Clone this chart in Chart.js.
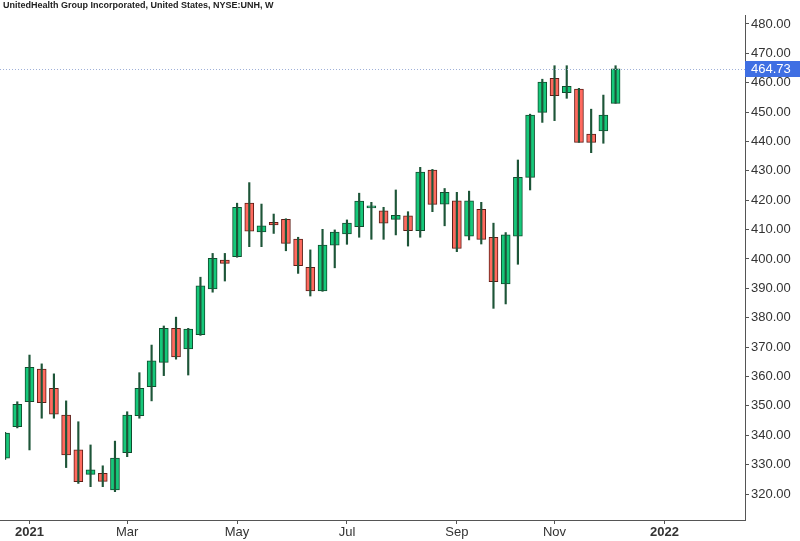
<!DOCTYPE html>
<html>
<head>
<meta charset="utf-8">
<script src="https://cdn.jsdelivr.net/npm/chart.js@4/dist/chart.umd.min.js"></script>
<style>
  html, body { margin: 0; padding: 0; background: #fff; }
</style>
</head>
<body>
<canvas id="chart" width="800" height="541"></canvas>
<script>
// weekly bars, UNH
const weeks = [
  '2020-12-21','2020-12-28','2021-01-04','2021-01-11','2021-01-18','2021-01-25',
  '2021-02-01','2021-02-08','2021-02-15','2021-02-22','2021-03-01','2021-03-08',
  '2021-03-15','2021-03-22','2021-03-29','2021-04-05','2021-04-12','2021-04-19',
  '2021-04-26','2021-05-03','2021-05-10','2021-05-17','2021-05-24','2021-05-31',
  '2021-06-07','2021-06-14','2021-06-21','2021-06-28','2021-07-05','2021-07-12',
  '2021-07-19','2021-07-26','2021-08-02','2021-08-09','2021-08-16','2021-08-23',
  '2021-08-30','2021-09-06','2021-09-13','2021-09-20','2021-09-27','2021-10-04',
  '2021-10-11','2021-10-18','2021-10-25','2021-11-01','2021-11-08','2021-11-15',
  '2021-11-22','2021-11-29','2021-12-06'
];
const opens = [
  332.2, 342.9, 351.4, 362.5, 356.0, 346.9, 335.0, 326.7, 327.0, 321.4, 334.1, 346.7,
  356.5, 364.8, 376.4, 369.4, 374.2, 389.8, 399.6, 400.8, 419.0, 409.2, 412.5, 413.5,
  406.8, 397.2, 389.1, 404.7, 408.5, 411.0, 417.4, 416.4, 413.5, 414.7, 409.6, 430.3,
  418.7, 419.8, 407.8, 416.9, 407.4, 391.5, 407.8, 427.8, 449.9, 461.5, 456.6, 457.8,
  442.5, 443.6, 453.0
];
const highs = [
  341.0, 351.4, 367.3, 364.3, 360.9, 351.7, 344.6, 336.7, 329.6, 338.0, 348.0, 361.3,
  370.7, 377.2, 380.2, 376.4, 393.8, 401.9, 401.9, 419.0, 426.0, 418.7, 415.3, 413.7,
  407.4, 403.1, 410.1, 409.9, 413.3, 422.4, 419.3, 417.6, 423.5, 416.1, 431.2, 430.5,
  424.0, 422.7, 423.1, 419.3, 412.2, 409.0, 433.7, 449.3, 461.2, 465.8, 465.8, 458.1,
  451.0, 455.8, 465.8
];
const lows = [
  331.8, 342.5, 335.0, 345.8, 345.8, 329.0, 323.6, 322.5, 322.5, 320.8, 332.7, 345.8,
  351.7, 360.3, 365.9, 360.5, 374.0, 388.7, 392.5, 400.6, 404.2, 404.2, 408.7, 402.8,
  395.1, 387.4, 389.0, 397.0, 405.0, 407.4, 406.7, 406.7, 408.2, 404.4, 407.4, 416.1,
  411.3, 402.5, 406.5, 405.1, 383.2, 384.7, 398.2, 423.5, 446.5, 447.1, 454.7, 439.7,
  436.2, 439.4, 453.0
];
const closes = [
  340.7, 350.5, 363.1, 351.1, 347.2, 333.3, 324.2, 328.2, 324.3, 332.2, 346.9, 356.0,
  365.3, 376.4, 366.7, 376.1, 390.9, 400.2, 398.5, 417.6, 409.5, 411.3, 411.6, 405.3,
  397.7, 389.1, 404.7, 409.2, 412.2, 419.7, 417.6, 412.2, 414.9, 409.6, 429.6, 418.6,
  422.7, 403.6, 419.8, 406.7, 392.3, 408.2, 427.8, 449.0, 460.2, 455.6, 458.8, 439.7,
  439.7, 449.0, 464.73
];
const firstIndex = -2; // Dec 21 2020 sits two bars before the first 2021 week
const xTickPos = [0, 8, 17, 26, 35, 43, 52];
const xTickLabels = ['2021', 'Mar', 'May', 'Jul', 'Sep', 'Nov', '2022'];
const yTickValues = [320, 330, 340, 350, 360, 370, 380, 390, 400, 410, 420, 430, 440, 450, 460, 470, 480];
const lastPrice = 464.73;
const title = 'UnitedHealth Group Incorporated, United States, NYSE:UNH, W';

const UP = '#16c87a', DOWN = '#ff6a5f';
const UP_EDGE = '#0f4d2e', DOWN_EDGE = '#5e1c16', WICK = '#1d5538';
const FONT = "'Liberation Sans', Arial, sans-serif";

const isUp = opens.map((o, i) => closes[i] >= o);

const titlePlugin = {
  id: 'titleText',
  afterDraw(chart) {
    const ctx = chart.ctx;
    ctx.save();
    ctx.font = 'bold 9px ' + FONT;
    ctx.fillStyle = '#222';
    ctx.textBaseline = 'middle';
    ctx.fillText(title, 3, 6);
    ctx.restore();
  }
};

const priceTag = {
  id: 'priceTag',
  afterDraw(chart) {
    const { ctx, chartArea } = chart;
    const y = Math.round(chart.scales.y.getPixelForValue(lastPrice)) + 0.5;
    ctx.save();
    ctx.strokeStyle = '#9fb0d8';
    ctx.lineWidth = 1;
    ctx.setLineDash([1, 2]);
    ctx.beginPath();
    ctx.moveTo(chartArea.left, y);
    ctx.lineTo(chartArea.right, y);
    ctx.stroke();
    ctx.setLineDash([]);
    ctx.fillStyle = '#3f6fe3';
    ctx.fillRect(chartArea.right, y - 8.5, 800 - chartArea.right, 16);
    ctx.fillStyle = '#fff';
    ctx.font = '13px ' + FONT;
    ctx.textBaseline = 'middle';
    ctx.fillText(lastPrice.toFixed(2), chartArea.right + 6, y);
    ctx.restore();
  }
};

new Chart(document.getElementById('chart'), {
  type: 'bar',
  data: {
    datasets: [
      {
        label: 'wick',
        data: weeks.map((w, i) => ({ x: i + firstIndex, y: [lows[i], highs[i]] })),
        backgroundColor: WICK,
        borderWidth: 0,
        barThickness: 1.5,
        grouped: false,
        clip: { left: -5, top: 0, right: 0, bottom: 0 }
      },
      {
        label: 'body',
        data: weeks.map((w, i) => ({ x: i + firstIndex, y: [opens[i], closes[i]] })),
        backgroundColor: isUp.map(u => u ? UP : DOWN),
        borderColor: isUp.map(u => u ? UP_EDGE : DOWN_EDGE),
        borderWidth: 1,
        borderSkipped: false,
        barThickness: 9,
        minBarLength: 2,
        grouped: false,
        clip: { left: -5, top: 0, right: 0, bottom: 0 }
      }
    ]
  },
  options: {
    responsive: false,
    animation: false,
    layout: { padding: { top: 15, left: 0, right: 0, bottom: 0 } },
    plugins: { legend: { display: false }, tooltip: { enabled: false } },
    scales: {
      x: {
        type: 'linear',
        min: -2.416,
        max: 58.6,
        offset: false,
        afterBuildTicks: s => { s.ticks = xTickPos.map(v => ({ value: v })); },
        afterFit: s => { s.height = 21; },
        grid: { offset: false, drawOnChartArea: false, drawTicks: true, tickLength: 4, color: '#555' },
        border: { display: true, color: '#555' },
        ticks: {
          autoSkip: false,
          maxRotation: 0,
          padding: 1,
          color: '#333',
          font: c => ({ family: FONT, size: 13, weight: /^\d{4}$/.test(xTickLabels[c.index] || '') ? 'bold' : 'normal' }),
          callback: v => xTickLabels[xTickPos.indexOf(v)]
        }
      },
      y: {
        position: 'right',
        min: 311.15,
        max: 483.06,
        afterBuildTicks: s => { s.ticks = yTickValues.map(v => ({ value: v })); },
        afterFit: s => { s.width = 55; },
        grid: { drawOnChartArea: false, drawTicks: true, tickLength: 4, color: '#555' },
        border: { display: true, color: '#555' },
        ticks: {
          padding: 2,
          color: '#333',
          font: { family: FONT, size: 13 },
          callback: v => v.toFixed(2)
        }
      }
    }
  },
  plugins: [titlePlugin, priceTag]
});
</script>
</body>
</html>
